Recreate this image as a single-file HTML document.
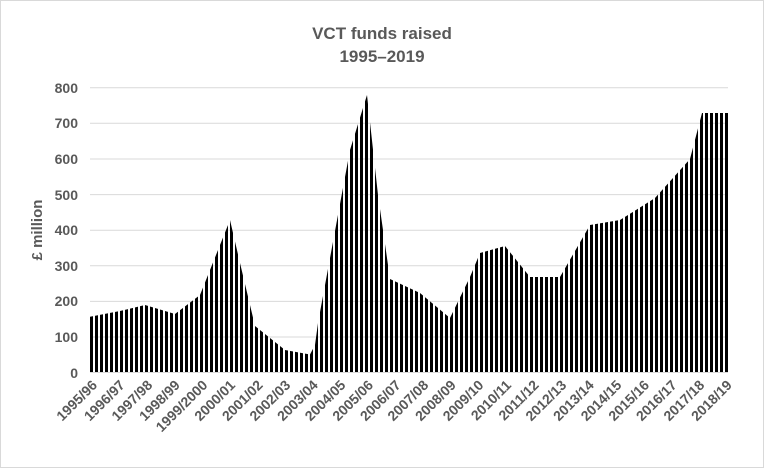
<!DOCTYPE html><html><head><style>body{margin:0;background:#fff}</style></head><body>
<svg width="764" height="468" xmlns="http://www.w3.org/2000/svg" font-family="Liberation Sans, sans-serif">
<defs><pattern id="st" patternUnits="userSpaceOnUse" width="5" height="10" x="90"><rect x="0" y="0" width="3" height="10" fill="#000"/></pattern></defs>
<rect x="0.5" y="0.5" width="763" height="467" fill="#fff" stroke="#d9d9d9"/>
<text x="382" y="39" text-anchor="middle" font-size="17" font-weight="bold" fill="#595959">VCT funds raised</text>
<text x="382" y="62" text-anchor="middle" font-size="17" font-weight="bold" fill="#595959">1995–2019</text>
<g stroke="#d9d9d9" stroke-width="1">
<line x1="90" x2="728" y1="87.7" y2="87.7"/><line x1="90" x2="728" y1="123.3" y2="123.3"/><line x1="90" x2="728" y1="159" y2="159"/><line x1="90" x2="728" y1="194.6" y2="194.6"/><line x1="90" x2="728" y1="230.2" y2="230.2"/><line x1="90" x2="728" y1="265.8" y2="265.8"/><line x1="90" x2="728" y1="301.4" y2="301.4"/><line x1="90" x2="728" y1="337" y2="337"/>
</g>
<g font-size="14" font-weight="bold" fill="#595959" text-anchor="end">
<text x="78" y="93">800</text><text x="78" y="128">700</text><text x="78" y="164">600</text><text x="78" y="200">500</text><text x="78" y="235">400</text><text x="78" y="271">300</text><text x="78" y="306">200</text><text x="78" y="342">100</text><text x="78" y="378">0</text>
</g>
<text transform="translate(42,230) rotate(-90)" text-anchor="middle" font-size="15" font-weight="bold" fill="#595959">£ million</text>
<polygon fill="url(#st)" points="90,372.5 90,316.7 120,311 145,305 175,314 200,295 230,220 240,263 255,326 285,350 310,354.5 315,345 318,323 335,231 350,150 367,95 378,195 390,279 420,293 450,318 470,277 480,253 505,246 530,277 560,277 590,225 620,220 655,198 690,159 702,113 728,113 728,372.5"/>
<line x1="90" x2="728" y1="372.5" y2="372.5" stroke="#d9d9d9"/>
<g font-size="14" font-weight="bold" fill="#595959" text-anchor="end">
<text transform="translate(98,386) rotate(-45)">1995/96</text>
<text transform="translate(125.6,386) rotate(-45)">1996/97</text>
<text transform="translate(153.2,386) rotate(-45)">1997/98</text>
<text transform="translate(180.8,386) rotate(-45)">1998/99</text>
<text transform="translate(208.4,386) rotate(-45)">1999/2000</text>
<text transform="translate(236,386) rotate(-45)">2000/01</text>
<text transform="translate(263.6,386) rotate(-45)">2001/02</text>
<text transform="translate(291.2,386) rotate(-45)">2002/03</text>
<text transform="translate(318.8,386) rotate(-45)">2003/04</text>
<text transform="translate(346.4,386) rotate(-45)">2004/05</text>
<text transform="translate(374,386) rotate(-45)">2005/06</text>
<text transform="translate(401.6,386) rotate(-45)">2006/07</text>
<text transform="translate(429.2,386) rotate(-45)">2007/08</text>
<text transform="translate(456.8,386) rotate(-45)">2008/09</text>
<text transform="translate(484.4,386) rotate(-45)">2009/10</text>
<text transform="translate(512,386) rotate(-45)">2010/11</text>
<text transform="translate(539.6,386) rotate(-45)">2011/12</text>
<text transform="translate(567.2,386) rotate(-45)">2012/13</text>
<text transform="translate(594.8,386) rotate(-45)">2013/14</text>
<text transform="translate(622.4,386) rotate(-45)">2014/15</text>
<text transform="translate(650,386) rotate(-45)">2015/16</text>
<text transform="translate(677.6,386) rotate(-45)">2016/17</text>
<text transform="translate(705.2,386) rotate(-45)">2017/18</text>
<text transform="translate(732.8,386) rotate(-45)">2018/19</text>
</g>
</svg>
</body></html>
